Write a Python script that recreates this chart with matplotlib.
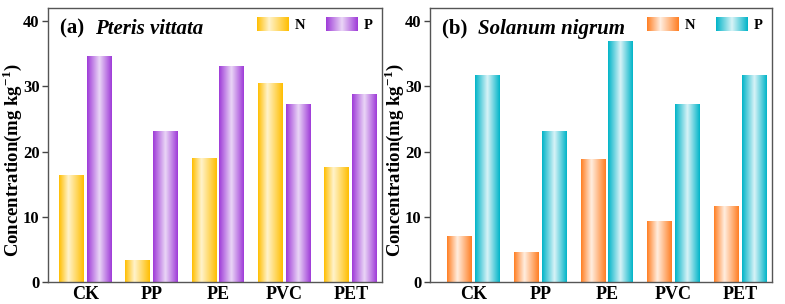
import numpy as np
import matplotlib
matplotlib.use("Agg")
import matplotlib.pyplot as plt
from matplotlib.colors import LinearSegmentedColormap
from matplotlib.legend_handler import HandlerBase
from matplotlib.image import BboxImage
from matplotlib.transforms import Bbox, TransformedBbox
from matplotlib.patches import Rectangle

categories = ["CK", "PP", "PE", "PVC", "PET"]
pv_N = [16.4, 3.3, 19.0, 30.4, 17.6]
pv_P = [34.6, 23.0, 33.0, 27.2, 28.7]
sn_N = [7.0, 4.5, 18.8, 9.3, 11.6]
sn_P = [31.6, 23.0, 36.8, 27.2, 31.6]
yticks = [0, 10, 20, 30, 40]

plt.rcParams['font.family'] = ['Liberation Serif', 'DejaVu Serif']
plt.rcParams['font.weight'] = 'bold'
plt.rcParams['mathtext.fontset'] = 'custom'
plt.rcParams['mathtext.rm'] = 'Liberation Serif:bold'
plt.rcParams['mathtext.bf'] = 'Liberation Serif:bold'


def make_cmap(name, edge, light, peak):
    return LinearSegmentedColormap.from_list(
        name, [(0.0, edge), (peak, light), (1.0, edge)])


cm_gold = make_cmap("gold", "#FFBE00", "#FFF3CC", 0.38)
cm_purple = make_cmap("purple", "#9E3AD8", "#EAD6F6", 0.5)
cm_orange = make_cmap("orange", "#FF7E22", "#FFEEE0", 0.42)
cm_teal = make_cmap("teal", "#00B4C8", "#D8F3F7", 0.5)

grad = np.linspace(0, 1, 256).reshape(1, -1)


class GradHandler(HandlerBase):
    def __init__(self, cmap):
        super().__init__()
        self.cmap = cmap

    def create_artists(self, legend, orig_handle, xdescent, ydescent,
                       width, height, fontsize, trans):
        bb = Bbox.from_bounds(-xdescent, -ydescent, width, height)
        tbb = TransformedBbox(bb, trans)
        img = BboxImage(tbb, cmap=self.cmap, interpolation='bilinear')
        img.set_data(grad)
        return [img]


def grad_bars(ax, xs, vals, width, cmap):
    bars = ax.bar(xs, vals, width, color='none', edgecolor='none', zorder=3)
    for b in bars:
        x0 = b.get_x()
        w = b.get_width()
        h = b.get_height()
        ax.imshow(grad, cmap=cmap, extent=[x0, x0 + w, 0, h],
                  aspect='auto', interpolation='bilinear', zorder=2)
    return bars


fig = plt.figure(figsize=(7.85, 3.04), dpi=100)
axL = fig.add_axes([48 / 785, 1 - 282 / 304, 334 / 785, 274 / 304])
axR = fig.add_axes([430 / 785, 1 - 282 / 304, 342 / 785, 274 / 304])

x = np.arange(len(categories))
bw = 0.375
off = 0.21

panels = [
    (axL, pv_N, pv_P, cm_gold, cm_purple, "Pteris vittata", "(a)", (-0.56, 4.47), -0.109),
    (axR, sn_N, sn_P, cm_orange, cm_teal, "Solanum nigrum", "(b)", (-0.66, 4.48), -0.105),
]

for ax, n, p, cmN, cmP, species, tag, xl, labx in panels:
    grad_bars(ax, x - off, n, bw, cmN)
    grad_bars(ax, x + off, p, bw, cmP)
    ax.set_xlim(*xl)
    ax.set_ylim(0, 42)
    ax.set_xticks(x)
    ax.set_xticklabels(categories, fontsize=13, fontweight='bold')
    ax.set_yticks(yticks)
    ax.set_yticklabels([str(t) for t in yticks], fontsize=12, fontweight='bold')
    ax.tick_params(axis='x', length=0, pad=3)
    ax.tick_params(axis='y', direction='out', length=4, width=1, color='#444444', pad=2)
    for s in ax.spines.values():
        s.set_color('#555555')
        s.set_linewidth(1.0)
    ax.set_ylabel(r"Concentration(mg kg$^{-1}$)", fontsize=13.5, fontweight='bold')
    ax.yaxis.label.set_va('center')
    ax.yaxis.set_label_coords(labx, 0.445)
    t = ax.text(0.036, 0.925, tag + "  ", transform=ax.transAxes, fontsize=15,
                fontweight='bold', va='center', ha='left')
    fig.canvas.draw()
    bb = t.get_window_extent().transformed(ax.transAxes.inverted())
    ax.text(bb.x1, 0.925, species, transform=ax.transAxes, fontsize=15,
            fontweight='bold', style='italic', va='center', ha='left')
    hN = Rectangle((0, 0), 1, 1)
    hP = Rectangle((0, 0), 1, 1)
    ax.legend([hN, hP], ["N", "P"], handler_map={hN: GradHandler(cmN), hP: GradHandler(cmP)},
              loc='upper right', bbox_to_anchor=(1.0, 1.0), ncol=2, frameon=False,
              fontsize=10.5, handlelength=2.15, handleheight=1.05, handletextpad=0.45,
              columnspacing=1.4, borderaxespad=0.25)

fig.savefig("out.png", dpi=100)
